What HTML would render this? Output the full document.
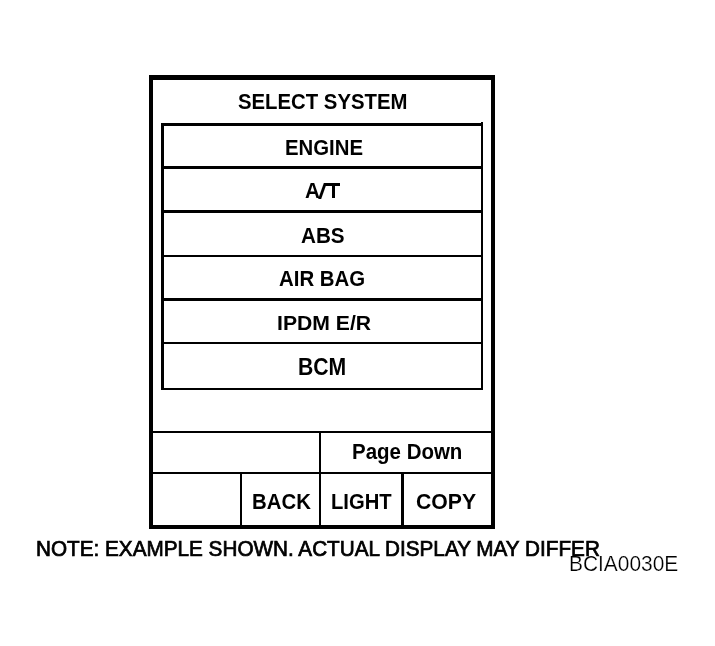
<!DOCTYPE html>
<html><head><meta charset="utf-8">
<style>
html,body{margin:0;padding:0;background:#fff;}
body{width:715px;height:646px;position:relative;overflow:hidden;font-family:"Liberation Sans",sans-serif;color:#000;}
.b{position:absolute;background:#000;}
.t{position:absolute;white-space:nowrap;font-size:20px;line-height:20px;font-weight:bold;transform-origin:0 0;will-change:transform;}
.n0{}
.k{font-weight:normal;-webkit-text-stroke:0.7px #000;}
.n{font-weight:normal;-webkit-text-stroke:0.2px #fff;}
</style></head><body>
<!-- outer frame -->
<div class="b" style="left:149px;top:75px;width:346px;height:5px"></div>
<div class="b" style="left:149px;top:525px;width:346px;height:4px"></div>
<div class="b" style="left:149px;top:75px;width:4px;height:454px"></div>
<div class="b" style="left:491px;top:75px;width:4px;height:454px"></div>
<!-- inner list box -->
<div class="b" style="left:161px;top:123px;width:3px;height:267px"></div>
<div class="b" style="left:481px;top:122px;width:2px;height:268px"></div>
<div class="b" style="left:161px;top:123px;width:322px;height:3px"></div>
<div class="b" style="left:161px;top:166px;width:322px;height:3px"></div>
<div class="b" style="left:161px;top:210px;width:322px;height:3px"></div>
<div class="b" style="left:161px;top:255px;width:322px;height:2px"></div>
<div class="b" style="left:161px;top:298px;width:322px;height:3px"></div>
<div class="b" style="left:161px;top:342px;width:322px;height:2px"></div>
<div class="b" style="left:161px;top:388px;width:322px;height:2px"></div>
<!-- bottom buttons -->
<div class="b" style="left:149px;top:431px;width:346px;height:2px"></div>
<div class="b" style="left:149px;top:472px;width:346px;height:2px"></div>
<div class="b" style="left:319px;top:431px;width:2px;height:96px"></div>
<div class="b" style="left:240px;top:472px;width:2px;height:55px"></div>
<div class="b" style="left:401px;top:472px;width:3px;height:55px"></div>
<!-- text -->
<div class="t" style="left:238.18px;top:89.54px;transform:scale(1.0164,1.1202)">SELECT SYSTEM</div>
<div class="t" style="left:285.07px;top:136.82px;transform:scale(1.0178,1.0774)">ENGINE</div>
<div class="t" style="left:305.32px;top:180px;transform:scale(1.0335,1.07)">A</div>
<div class="b" style="left:321px;top:183px;width:3.4px;height:16px;transform:skewX(-19.5deg)"></div>
<div class="b" style="left:325px;top:183px;width:15px;height:3px"></div>
<div class="b" style="left:332px;top:183px;width:3px;height:15px"></div>
<div class="t" style="left:301.1px;top:223.58px;transform:scale(1.0336,1.1417)">ABS</div>
<div class="t" style="left:279.12px;top:266.82px;transform:scale(1.0207,1.1028)">AIR BAG</div>
<div class="t" style="left:276.51px;top:312.45px;transform:scale(1.0583,1.0318)">IPDM E/R</div>
<div class="t" style="left:297.55px;top:354.5px;transform:scale(1.0595,1.1563)">BCM</div>
<div class="t" style="left:352.1px;top:440.8px;transform:scale(1.024,1.072)">Page Down</div>
<div class="t" style="left:252.4px;top:490.58px;transform:scale(1.019,1.0774)">BACK</div>
<div class="t" style="left:331.2px;top:490.17px;transform:scale(1.011,1.1028)">LIGHT</div>
<div class="t" style="left:416px;top:490.28px;transform:scale(1.0604,1.1167)">COPY</div>
<div class="t k" style="left:35.7px;top:537.64px;transform:scale(1.0354,1.0654)">NOTE: EXAMPLE SHOWN. ACTUAL DISPLAY MAY DIFFER</div>
<div class="t n" style="left:569.2px;top:551.9px;transform:scale(1.046,1.125)">BCIA0030E</div>
</body></html>
